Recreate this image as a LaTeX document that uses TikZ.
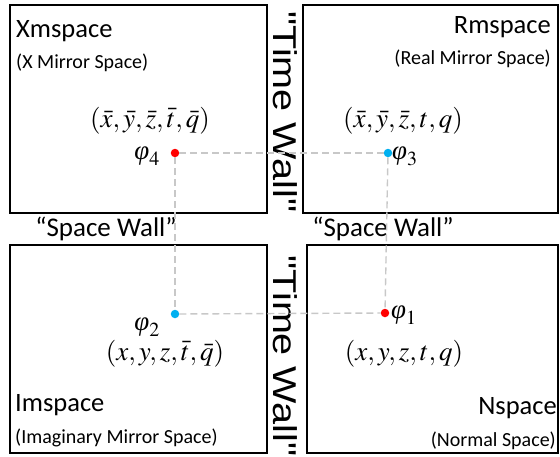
\documentclass[tikz,border=0pt]{standalone}
\usepackage{mathptmx}
\usepackage[no-math]{fontspec}
\setmainfont{Carlito}
\newfontfamily\wallfont{Liberation Sans}
\newfontfamily\greekfont{Liberation Serif}

\definecolor{dotred}{RGB}{255,0,0}
\definecolor{dotblue}{RGB}{0,176,240}
\definecolor{wallgray}{RGB}{200,200,200}

\newcommand{\phiname}[1]{$\mbox{\greekfont\itshape φ}_{#1}$}

\tikzset{
  space/.style={draw,line width=1.5pt,inner sep=0pt,minimum height=208pt},
  dot/.style={circle,fill=#1,inner sep=0pt,minimum size=8.5pt},
  link/.style={wallgray,dash pattern=on 7pt off 4pt,line width=1.4pt},
  title/.style={inner sep=0pt,font=\fontsize{26.5}{30}\selectfont},
  subtitle/.style={inner sep=0pt,font=\fontsize{20}{24}\selectfont},
  tuple/.style={inner sep=0pt,font=\fontsize{27}{30}\selectfont},
  wall/.style={inner sep=0pt,anchor=base,font=\fontsize{27}{30}\selectfont},
  timewall/.style={inner sep=0pt,anchor=base,rotate=-90,font=\wallfont\fontsize{33}{36}\selectfont},
}

\begin{document}
\begin{tikzpicture}[x=1pt,y=-1pt]
\useasboundingbox (0,0) rectangle (560,456);

\node[space,minimum width=257pt] (xm) at (138.5,109) {};
\node[space,minimum width=255pt] (rm) at (430.5,109) {};
\node[space,minimum width=257pt] (im) at (138.5,349) {};
\node[space,minimum width=251pt] (ns) at (432.5,349) {};

% 左上
\node[title,anchor=base west] (xmname) at (16,37) {Xmspace};
\node[subtitle,anchor=base west] (xmsub) at (16,68) {(X Mirror Space)};
\node[tuple,anchor=base] (xmtuple) at (150,127) {$(\bar{x},\bar{y},\bar{z},\bar{t},\bar{q})$};
\node[dot=dotred] (p4) at (175,153) {};
\node[tuple,anchor=base east] (phi4) at (160,159) {\phiname{4}};

% 右上
\node[title,anchor=base east] (rmname) at (551,33) {Rmspace};
\node[subtitle,anchor=base east] (rmsub) at (551,64) {(Real Mirror Space)};
\node[tuple,anchor=base] (rmtuple) at (403,127) {$(\bar{x},\bar{y},\bar{z},t,q)$};
\node[dot=dotblue] (p3) at (388,153) {};
\node[tuple,anchor=base west] (phi3) at (392,159) {\phiname{3}};

% 左下
\node[dot=dotblue] (p2) at (175,314) {};
\node[tuple,anchor=base east] (phi2) at (160,330) {\phiname{2}};
\node[tuple,anchor=base] (imtuple) at (165,360) {$(x,y,z,\bar{t},\bar{q})$};
\node[title,anchor=base west] (imname) at (15,411) {Imspace};
\node[subtitle,anchor=base west] (imsub) at (15,443) {(Imaginary Mirror Space)};

% 右下
\node[dot=dotred] (p1) at (385,313) {};
\node[tuple,anchor=base west] (phi1) at (391,318) {\phiname{1}};
\node[tuple,anchor=base] (nstuple) at (404,360) {$(x,y,z,t,q)$};
\node[title,anchor=base east] (nsname) at (557,414) {Nspace};
\node[subtitle,anchor=base east] (nssub) at (556,446) {(Normal Space)};

% 壁
\node[wall] (swleft) at (106,236) {“Space Wall”};
\node[wall] (swright) at (383,236) {“Space Wall”};
\node[timewall] (twtop) at (273,112) {\scalebox{1.2}[1]{"Time Wall"}};
\node[timewall] (twbottom) at (273,356) {\scalebox{1.2}[1]{"Time Wall"}};

% 点線
\draw[link] (p4) -- (p3);
\draw[link] (p4) -- (p2);
\draw[link] (p3) -- (p1);
\draw[link] (p2) -- (p1);

\end{tikzpicture}
\end{document}
